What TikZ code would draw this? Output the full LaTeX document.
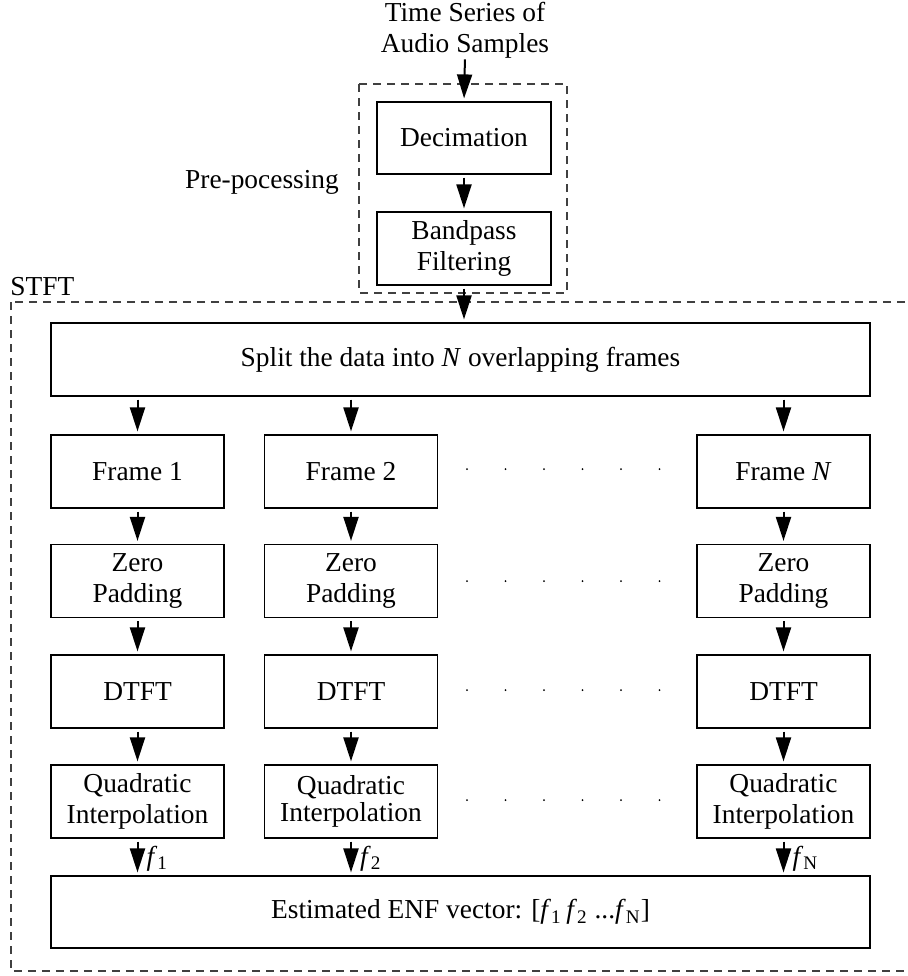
\documentclass[tikz,border=0pt]{standalone}
\usepackage{fontspec}
\setmainfont{Liberation Serif}
\usetikzlibrary{arrows.meta}
\begin{document}
\begin{tikzpicture}[x=0.5pt,y=-0.5pt,
  txt/.style={font=\fontsize{13.7}{15.5}\selectfont, align=center, inner sep=0pt},
  box/.style={txt, draw, line width=0.6pt, minimum width=86.5pt, minimum height=36.5pt},
  wide/.style={box, minimum width=409.5pt},
  arr/.style={-{Triangle[length=12pt,width=7.5pt]}, line width=1pt, shorten <=1.5pt, shorten >=1.5pt},
  dashbox/.style={draw=black!75, line width=0.55pt, dash pattern=on 4pt off 3pt},
  lab/.style={font=\fontsize{13.7}{15.5}\selectfont, inner sep=0pt, xshift=4pt}]
\clip (0,0) rectangle (908,976);
% pre-processing
\node[txt] (src) at (465,30) {Time Series of\\Audio Samples};
\node[box, minimum width=87pt, minimum height=36pt] (dec) at (464,138) {Decimation};
\node[box, minimum width=87pt, minimum height=36.5pt] (bp) at (464,248.5) {Bandpass\\Filtering};
\draw[dashbox] (359,84) rectangle (567,293);
\node[txt] (pre) at (262,182) {Pre-pocessing};
% STFT
\draw[dashbox] (11,302) rectangle (916,971);
\node[txt, anchor=south west] (stft) at (10,296) {STFT};
\node[wide] (split) at (460.5,359.5) {Split the data into \textit{N} overlapping frames};
% columns
\node[box] (fa) at (137.5,471.5) {Frame 1};
\node[box] (fb) at (351,471.5) {\raisebox{-1.5pt}{Frame 2}};
\node[box] (fn) at (783.5,471.5) {Frame \textit{N}};
\node[box] (za) at (137.5,581) {Zero\\Padding};
\node[box] (zb) at (351,581) {Zero\\Padding};
\node[box] (zn) at (783.5,581) {Zero\\Padding};
\node[box] (da) at (137.5,691.5) {DTFT};
\node[box] (db) at (351,691.5) {\raisebox{-1.5pt}{DTFT}};
\node[box] (dn) at (783.5,691.5) {DTFT};
\node[box] (qa) at (137.5,801.5) {Quadratic\\Interpolation};
\node[box] (qb) at (351,801.5) {\raisebox{-3pt}{\shortstack{Quadratic\\[-1.5pt]Interpolation}}};
\node[box] (qn) at (783.5,801.5) {Quadratic\\Interpolation};
\node[wide, minimum height=36pt] (est) at (460.5,912) {Estimated ENF vector: [\textit{f}\textsubscript{1}\,\textit{f}\textsubscript{2} ...\textit{f}\textsubscript{N}]};
% arrows
\draw[arr] (src.south) ++(0,-2) -- (dec.north);
\draw[arr] (dec) -- (bp);
\draw[arr] (bp.south) -- (bp.south |- split.north);
\foreach \c in {a,b,n}{
  \draw[arr] (split.south -| f\c) -- (f\c);
  \draw[arr] (f\c) -- (z\c);
  \draw[arr] (z\c) -- (d\c);
  \draw[arr] (d\c) -- (q\c);
}
\draw[arr] (qa) -- node[lab, right, pos=0.55] {\textit{f}\textsubscript{1}} (qa |- est.north);
\draw[arr] (qb) -- node[lab, right, pos=0.55] {\textit{f}\textsubscript{2}} (qb |- est.north);
\draw[arr] (qn) -- node[lab, right, pos=0.55] {\textit{f}\textsubscript{N}} (qn |- est.north);
% dots
\foreach \y in {469,581,690,800}{
  \foreach \x in {467,505.5,544,582.5,621,659.5}{
    \fill (\x,\y) circle (0.5pt);
  }
}
\end{tikzpicture}
\end{document}
